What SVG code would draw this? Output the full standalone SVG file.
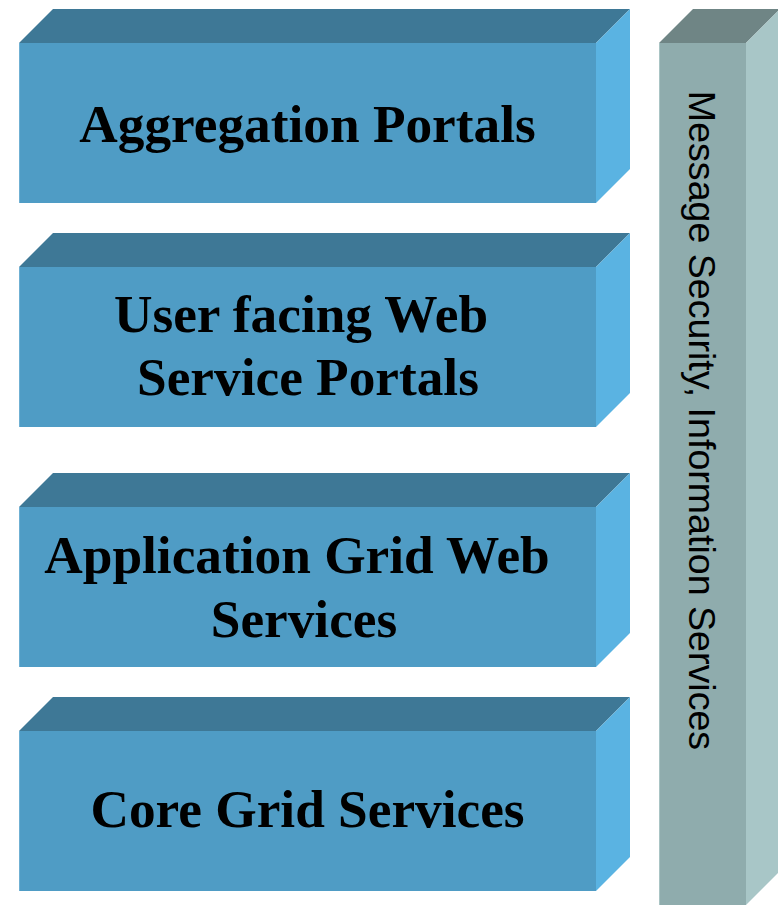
<svg xmlns="http://www.w3.org/2000/svg" width="778" height="905" viewBox="0 0 778 905">
<style>
.top{fill:#3e7896}
.front{fill:#4f9cc5}
.side{fill:#5ab3e2}
.edge{stroke:#6fb0d3;stroke-width:1;fill:none}
.gtop{fill:#6f8585}
.gfront{fill:#8facad}
.gside{fill:#a8c6c7}
.lbl{font-family:"Liberation Serif","Times New Roman",serif;font-weight:bold;font-size:53.3px;fill:#000;text-anchor:middle}
.vlbl{font-family:"Liberation Sans",Arial,sans-serif;font-size:37.6px;fill:#000;text-anchor:middle}
</style>
<rect width="778" height="905" fill="#ffffff"/>
<g id="aggregation-portals">
<polygon class="top" points="19,43 53,9 630,9 596,43"/>
<rect class="front" x="19" y="43" width="577" height="160"/>
<polygon class="side" points="596,43 630,9 630,169 596,203"/>
<line class="edge" x1="19.5" y1="43" x2="19.5" y2="203"/>
<text class="lbl" x="307.5" y="142">Aggregation Portals</text>
</g>
<g id="user-facing-portals">
<polygon class="top" points="19,267 53,233 630,233 596,267"/>
<rect class="front" x="19" y="267" width="577" height="160"/>
<polygon class="side" points="596,267 630,233 630,393 596,427"/>
<line class="edge" x1="19.5" y1="267" x2="19.5" y2="427"/>
<text class="lbl" x="301" y="332">User facing Web</text>
<text class="lbl" x="308" y="395">Service Portals</text>
</g>
<g id="application-grid-services">
<polygon class="top" points="19,507 53,473 630,473 596,507"/>
<rect class="front" x="19" y="507" width="577" height="160"/>
<polygon class="side" points="596,507 630,473 630,633 596,667"/>
<line class="edge" x1="19.5" y1="507" x2="19.5" y2="667"/>
<text class="lbl" x="297" y="573">Application Grid Web</text>
<text class="lbl" x="304" y="637">Services</text>
</g>
<g id="core-grid-services">
<polygon class="top" points="19,731 53,697 630,697 596,731"/>
<rect class="front" x="19" y="731" width="577" height="160"/>
<polygon class="side" points="596,731 630,697 630,857 596,891"/>
<line class="edge" x1="19.5" y1="731" x2="19.5" y2="891"/>
<text class="lbl" x="307.5" y="827">Core Grid Services</text>
</g>
<g id="message-security">
<polygon class="gtop" points="659,43 693,9 780,9 746,43"/>
<rect class="gfront" x="659" y="43" width="87" height="870"/>
<polygon class="gside" points="746,43 780,9 780,871 746,905"/>
<line x1="659.5" y1="43" x2="659.5" y2="905" stroke="#a9c4c4" stroke-width="1"/>
<text class="vlbl" transform="translate(689,420.5) rotate(90)">Message Security, Information Services</text>
</g>
</svg>
